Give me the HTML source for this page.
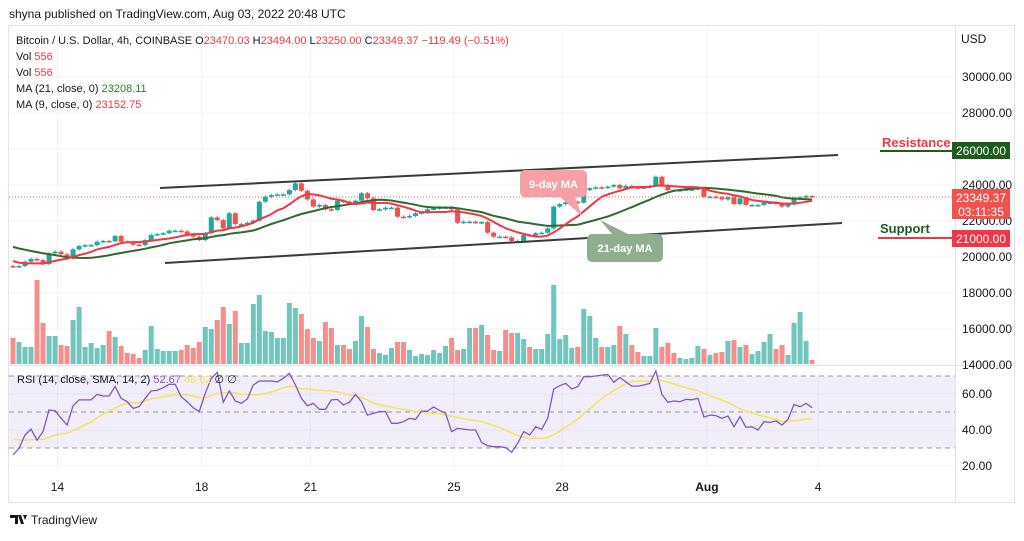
<!DOCTYPE html>
<html><head><meta charset="utf-8">
<style>
html,body{margin:0;padding:0;background:#fff;}
body{width:1024px;height:536px;overflow:hidden;position:relative;font-family:"Liberation Sans",sans-serif;}
svg text{font-family:"Liberation Sans",sans-serif;}
</style></head>
<body>
<svg id="chart" width="1024" height="536" viewBox="0 0 1024 536" xmlns="http://www.w3.org/2000/svg">
  <text x="9" y="18" font-size="12" fill="#131722">shyna published on TradingView.com, Aug 03, 2022 20:48 UTC</text>
  <rect x="8.5" y="25.5" width="1006" height="477" fill="#fff" stroke="#e0e3eb"/>
  <g id="grid"></g>
  <rect x="9" y="376" width="946" height="72" fill="#7e57c2" fill-opacity="0.1"/>
  <g id="rsiDash"></g>
  <g id="vol"></g>
  <g id="candles"></g>
  <g id="mas"></g>
  <g id="rsi"></g>
  <line x1="160" y1="188" x2="838" y2="155" stroke="#3a3a3a" stroke-width="2"/>
  <line x1="165" y1="263" x2="842" y2="223" stroke="#3a3a3a" stroke-width="2"/>
  <line x1="9" y1="197" x2="955" y2="197" stroke="#ef5350" stroke-width="1" stroke-dasharray="1 2"/>
  <g>
    <path d="M560 197 L582 216 L575 197 Z" fill="#f5a0a6"/>
    <rect x="520" y="170" width="67" height="27" rx="5" fill="#f5a0a6"/>
    <text x="553.5" y="188" font-size="11" font-weight="bold" fill="#fff" text-anchor="middle">9-day MA</text>
  </g>
  <g>
    <path d="M600 220 L612 234 L628 234 Z" fill="#8fae8f"/>
    <rect x="587" y="234" width="76" height="28" rx="5" fill="#8fae8f"/>
    <text x="625" y="252" font-size="11" font-weight="bold" fill="#fff" text-anchor="middle">21-day MA</text>
  </g>
  <g id="legend" font-size="11">
    <text x="16" y="44" fill="#131722">Bitcoin / U.S. Dollar, 4h, COINBASE  <tspan>O</tspan><tspan fill="#f23645">23470.03</tspan>  <tspan>H</tspan><tspan fill="#f23645">23494.00</tspan>  <tspan>L</tspan><tspan fill="#f23645">23250.00</tspan>  <tspan>C</tspan><tspan fill="#f23645">23349.37  −119.49 (−0.51%)</tspan></text>
    <text x="16" y="60" fill="#131722">Vol <tspan fill="#f23645">556</tspan></text>
    <text x="16" y="76" fill="#131722">Vol <tspan fill="#f23645">556</tspan></text>
    <text x="16" y="92" fill="#131722">MA (21, close, 0) <tspan fill="#2e7d32">23208.11</tspan></text>
    <text x="16" y="108" fill="#131722">MA (9, close, 0) <tspan fill="#f23645">23152.75</tspan></text>
    <text x="17" y="383" fill="#131722">RSI (14, close, SMA, 14, 2) <tspan fill="#7e57c2">52.67</tspan> <tspan fill="#f5e35b">46.62</tspan> <tspan>∅ ∅</tspan></text>
  </g>
  <g id="axis" font-size="12" fill="#131722"></g>
  <text x="961" y="43" font-size="12" fill="#131722">USD</text>
  <g>
    <text x="882" y="147" font-size="13" font-weight="bold" fill="#f23645">Resistance</text>
    <line x1="880" y1="151" x2="952" y2="151" stroke="#1e5c1e" stroke-width="2"/>
    <rect x="952" y="142" width="58" height="17" fill="#1e5c1e"/>
    <text x="981" y="155" font-size="12" fill="#fff" text-anchor="middle">26000.00</text>
  </g>
  <g>
    <text x="880" y="233" font-size="13" font-weight="bold" fill="#1e5c1e">Support</text>
    <line x1="878" y1="238" x2="952" y2="238" stroke="#f23645" stroke-width="2"/>
    <rect x="952" y="230" width="58" height="17" fill="#f23645"/>
    <text x="981" y="243" font-size="12" fill="#fff" text-anchor="middle">21000.00</text>
  </g>
  <g>
    <rect x="952" y="189" width="58" height="30" fill="#ef5350"/>
    <text x="981" y="202" font-size="12" fill="#fff" text-anchor="middle">23349.37</text>
    <text x="981" y="216" font-size="12" fill="#fff" text-anchor="middle">03:11:35</text>
  </g>
  <g>
    <path d="M10 515 h8 v9 h-3 v-6 h-5 Z M18 515 h3 l3 9 h-3 Z M23 515 h4 l-2 5 Z" fill="#131722"/>
    <text x="31" y="524" font-size="12" fill="#131722">TradingView</text>
  </g>
</svg>
<script>
// ---- data ----
const priorCloses = [21300,21200,21400,21100,21000,21200,21500,21300,21100,20900,21000,20800,20300,20100,19900,19800,19700,19600,19600,19500];
const closes = [19463,19500,19740,19890,19830,19610,20200,20300,20150,19925,
20425,20610,20660,20660,20850,20890,20870,21170,20850,20830,
20680,20660,20940,21220,21280,21320,21460,21460,21420,21220,
21130,20940,21320,22200,22050,21590,22430,21830,21830,21900,
22020,23070,23350,23440,23480,23480,23720,24090,23680,23200,
22800,22890,22650,22610,23130,23070,22980,23130,23540,23260,
22610,22650,22740,22740,22240,22200,22280,22430,22480,22650,
22700,22760,22760,22650,21900,21960,21960,21900,21940,21350,
21130,21130,21090,20890,20890,
21220,21200,21320,21350,21590,22800,22940,23040,23070,23020,
23720,23820,23870,23850,23910,24000,23820,23950,23870,23850,
23870,23950,24460,24000,23720,23690,23720,23760,23760,23820,
23350,23350,23310,23200,23310,22940,23260,22890,22890,22890,
23020,23020,22980,22800,22930,23260,23310,23390,23349.37];
const volumes = [26,22,17,17,84,41,28,28,19,18,
44,57,17,21,16,19,33,27,18,11,
10,6,14,38,15,13,13,13,14,19,
16,22,37,35,44,57,40,53,21,21,
60,69,33,32,26,26,61,56,50,35,
26,23,42,36,19,19,15,23,48,37,
15,11,9,16,22,22,14,8,10,9,
14,11,18,26,14,15,36,36,39,29,
14,13,34,31,31,
25,17,15,15,30,79,25,29,16,17,
55,48,26,17,17,19,38,30,19,12,
8,8,36,17,21,11,6,5,6,18,
15,9,11,12,23,24,17,19,10,13,
22,30,15,19,9,41,52,23,4];
const priorRsi = [38,40,36,34,37,35,33,36,38,35,33,34,36];
const rsiValues = [26.1,29.8,37.2,40.5,34.4,39.1,51.1,50.7,46.5,42.8,
53.5,56.7,56.7,56.8,59.8,58.9,58.9,64.1,57.6,55.7,
52.0,53.0,57.6,61.7,62.0,63.5,65.4,65.4,58.5,55.7,
52.4,50.2,60.4,68.7,72.0,55.4,61.7,56.1,54.8,57.2,
65.0,67.2,67.2,67.2,66.8,68.7,71.5,65.0,57.6,53.5,
54.8,51.5,51.5,56.7,57.0,53.9,55.4,59.8,55.7,48.3,
49.2,50.2,50.2,43.7,43.7,44.6,46.5,45.9,50.5,50.5,
52.8,50.9,49.2,39.1,40.9,40.5,40.0,40.0,33.1,31.3,
30.7,30.7,30.2,27.6,32.6,
39.1,37.2,41.8,40.4,46.5,62.8,64.6,65.9,62.8,64.1,
69.6,69.6,70.0,70.5,70.9,66.5,69.1,66.8,64.4,64.4,
65.0,65.9,72.8,59.8,55.4,56.1,55.7,57.0,56.8,57.6,
47.2,48.3,48.0,46.5,47.8,41.8,47.4,41.5,41.8,40.0,
44.6,44.2,45.0,42.8,45.9,54.3,52.9,54.8,52.4];
const priceTicks = [30000,28000,24000,22000,20000,18000,16000,14000];
const rsiTicks = [60,40,20];
const dateLabels = ["14","18","21","25","28","Aug","4"];
const dateIndex = [7.4,31.4,49.5,73.4,91.4,115.5,134];

// ---- scales ----
const xS = i => 13 + i*6.008;
const yP = p => 185 - (p-24000)*0.018;
const yV = v => 364 - v;
const yR = r => 394 - (r-60)*1.8;
const NS = "http://www.w3.org/2000/svg";
function mk(tag, attrs, parent){const e=document.createElementNS(NS,tag);for(const k in attrs)e.setAttribute(k,attrs[k]);parent.appendChild(e);return e;}

const grid = document.getElementById('grid');
priceTicks.concat([26000]).forEach(p=>{
  const l=mk('line',{x1:9,x2:955,y1:yP(p),y2:yP(p),stroke:'#f0f3fa'},grid);
  
  
});
rsiTicks.forEach(r=>{
  const l=mk('line',{x1:9,x2:955,y1:yR(r),y2:yR(r),stroke:'#f0f3fa'},grid);
  
  
});
dateIndex.forEach(i=>{
  const l=mk('line',{x1:xS(i),x2:xS(i),y1:26,y2:470,stroke:'#f0f3fa'},grid);
  
  
});
mk('line',{x1:9,x2:1014,y1:365.5,y2:365.5,stroke:'#e0e3eb'},grid);
mk('line',{x1:955.5,x2:955.5,y1:26,y2:502,stroke:'#e0e3eb'},grid);

const rd=document.getElementById('rsiDash');
[70,50,30].forEach(r=>{
  const l=mk('line',{x1:9,x2:955,y1:yR(r),y2:yR(r),stroke:'#9598a1','stroke-dasharray':'5 4'},rd);
  
  
});

const axis=document.getElementById('axis');
priceTicks.forEach(p=>{
  const t=mk('text',{x:962,y:yP(p)+4},axis);t.textContent=p.toFixed(2);
  
  
});
rsiTicks.forEach(r=>{
  const t=mk('text',{x:962,y:yR(r)+4},axis);t.textContent=r.toFixed(2);
  
  
});
dateLabels.forEach((d,k)=>{
  const t=mk('text',{x:xS(dateIndex[k]),y:491,'text-anchor':'middle','font-weight':d==='Aug'?'bold':'normal'},axis);t.textContent=d;
  
  
});

// candles & volume
const cg=document.getElementById('candles'), vg=document.getElementById('vol');
closes.forEach((c,i)=>{
  const o = i===0 ? priorCloses[priorCloses.length-1] : closes[i-1];
  const up = c>=o;
  const col = up ? '#26a69a' : '#ef5350';
  const x = xS(i);
  const hi = Math.max(o,c)+70, lo = Math.min(o,c)-70;
  const w=mk('line',{x1:x,x2:x,y1:yP(hi),y2:yP(lo),stroke:col,'stroke-width':1},cg);
  
  
  const top=yP(Math.max(o,c)), bot=yP(Math.min(o,c));
  const b=mk('rect',{x:x-2.5,y:top,width:5,height:Math.max(1.5,bot-top),fill:col},cg);
  
  
  const v=volumes[i];
  const vb=mk('rect',{x:x-2.5,y:yV(v),width:5,height:v,fill:up?'#26a69a':'#ef5350','fill-opacity':0.65},vg);
  
  
});

function sma(arr, prior, n){
  const all=prior.concat(arr); const out=[];
  for(let i=0;i<arr.length;i++){const j=i+prior.length;const s=all.slice(Math.max(0,j-n+1),j+1);out.push(s.reduce((a,b)=>a+b,0)/s.length);}
  return out;
}
function poly(vals, ys){return vals.map((v,i)=>xS(i).toFixed(1)+','+ys(v).toFixed(1)).join(' ');}
const mg=document.getElementById('mas');
const ma21=sma(closes,priorCloses,21), ma9=sma(closes,priorCloses,9);
const l21=mk('polyline',{points:poly(ma21,yP),fill:'none',stroke:'#2e6b2e','stroke-width':2},mg);


const l9=mk('polyline',{points:poly(ma9,yP),fill:'none',stroke:'#f23645','stroke-width':2},mg);



const rg=document.getElementById('rsi');
const rsiSma=sma(rsiValues,priorRsi,14);
const ly=mk('polyline',{points:poly(rsiSma,yR),fill:'none',stroke:'#f5e35b','stroke-width':1.5},rg);


const lr=mk('polyline',{points:poly(rsiValues,yR),fill:'none',stroke:'#7e57c2','stroke-width':1.3},rg);


</script>
</body></html>
